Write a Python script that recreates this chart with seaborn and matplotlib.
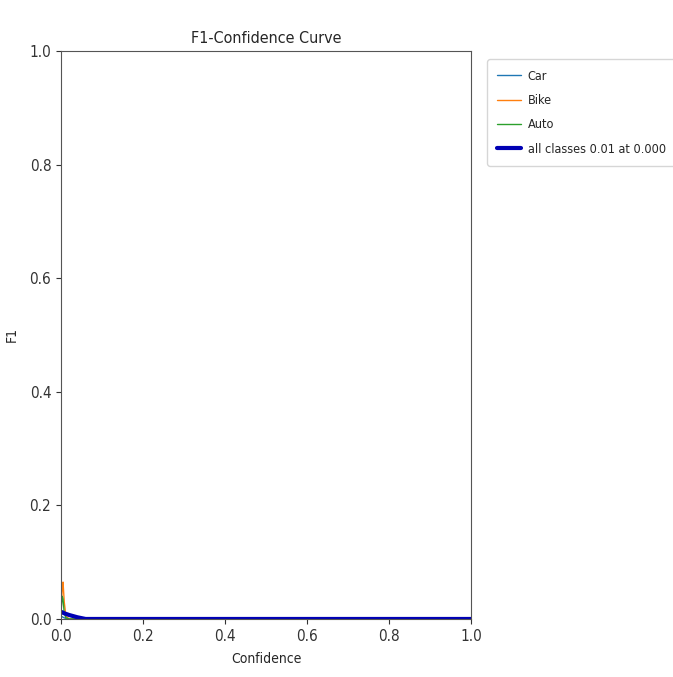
import matplotlib
matplotlib.use("Agg")
import matplotlib.pyplot as plt
import seaborn as sns

sns.set_style("ticks")
plt.rcParams['font.family'] = ['DejaVu Sans']
plt.rcParams['font.stretch'] = 'condensed'

confidence = [0.0, 0.003, 0.005, 0.008, 0.012, 0.02, 0.04, 0.06, 0.1, 0.5, 1.0]
car = [0.005, 0.004, 0.003, 0.002, 0.001, 0.0, 0.0, 0.0, 0.0, 0.0, 0.0]
bike = [0.02, 0.05, 0.065, 0.03, 0.005, 0.0, 0.0, 0.0, 0.0, 0.0, 0.0]
auto = [0.01, 0.04, 0.035, 0.01, 0.002, 0.0, 0.0, 0.0, 0.0, 0.0, 0.0]
all_classes = [0.012, 0.012, 0.011, 0.010, 0.009, 0.007, 0.003, 0.0, 0.0, 0.0, 0.0]
labels = ["Car", "Bike", "Auto", "all classes 0.01 at 0.000"]

fig = plt.figure(figsize=(6.73, 6.77), dpi=100)
ax = fig.add_axes([0.0906, 0.0857, 0.6094, 0.839])

colors = ["#1f77b4", "#ff7f0e", "#2ca02c"]
for vals, lab, c in zip([car, bike, auto], labels[:3], colors):
    sns.lineplot(x=confidence, y=vals, ax=ax, color=c, linewidth=1, label=lab)
sns.lineplot(x=confidence, y=all_classes, ax=ax, color="#0000b4", linewidth=3, label=labels[3])

ax.set_xlim(0, 1)
ax.set_ylim(0, 1)
ax.set_xticks([0, 0.2, 0.4, 0.6, 0.8, 1.0])
ax.set_yticks([0, 0.2, 0.4, 0.6, 0.8, 1.0])
ax.tick_params(labelsize=11, colors="#333333")
ax.set_xlabel("Confidence", fontsize=10, labelpad=6)
ax.set_ylabel("F1", fontsize=10, labelpad=8)
ax.set_title("F1-Confidence Curve", fontsize=11.5)
for s in ax.spines.values():
    s.set_visible(True)
    s.set_color("#555555")
ax.legend(loc="upper left", bbox_to_anchor=(1.039, 0.985), borderaxespad=0,
          fontsize=9.1, frameon=True, handlelength=1.9, handletextpad=0.5,
          labelspacing=0.9, borderpad=0.8)

fig.savefig("out.png", dpi=100)
